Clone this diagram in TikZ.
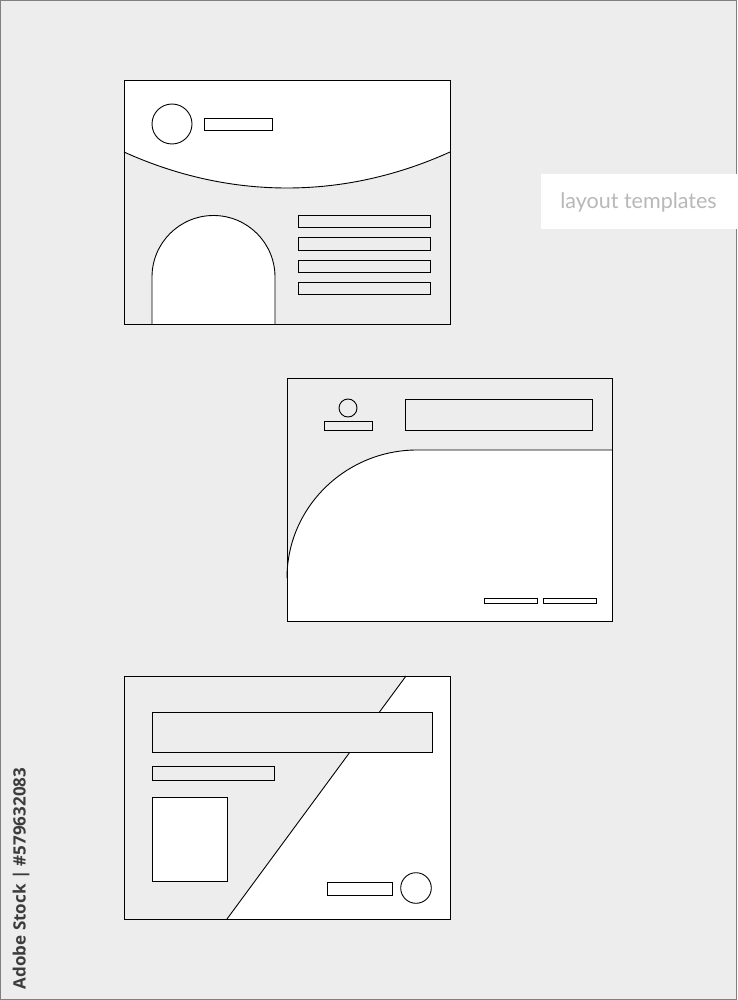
\documentclass[tikz,border=0pt]{standalone}
\usepackage{fontspec}
\newfontfamily\labelfont{Lato}
\newfontfamily\markfont{Open Sans}
\usetikzlibrary{positioning}
\definecolor{bggray}{HTML}{EDEDED}
\definecolor{labelgray}{HTML}{B8B8B8}
\definecolor{markgray}{HTML}{3C3C3C}
\tikzstyle{outline}=[draw=black, line width=0.9pt]
\tikzstyle{whitebox}=[outline, fill=white]
\tikzstyle{graybox}=[outline, fill=bggray]

\begin{document}
\begin{tikzpicture}
    [x=1pt, y=-1pt,
    title/.style={fill=white, text=labelgray, minimum width=196pt,
    minimum height=55pt, inner sep=0pt,
    font=\labelfont\fontsize{21.5}{22}\selectfont},
    stamp/.style={rotate=90, text=markgray, inner sep=0pt,
    font=\markfont\bfseries\fontsize{17}{18}\selectfont}]

  \fill[bggray] (0,0) rectangle (737,1000);
  \draw[gray, line width=1pt] (0.5,0.5) rectangle (736.5,999.5);
  \useasboundingbox (0,0) rectangle (737,1000);

  % first card: curved header, arch and bars
  \fill[white] (124,80) rectangle (450,324);
  \fill[bggray] (124,152) .. controls (230,200) and (344,200) .. (450,152)
    -- (450,324) -- (124,324) -- cycle;
  \draw[outline] (124,152) .. controls (230,200) and (344,200) .. (450,152);
  \draw[whitebox] (172,124) circle[radius=20];
  \draw[outline] (204,118) rectangle (272,130.5);
  \draw[whitebox] (152,324) -- (152,277)
    arc[start angle=180, end angle=360, radius=61.5] -- (275,324);
  \foreach \y in {215.5,237.8,260,282.3}
    \draw[outline] (298,\y) rectangle (430,\y+12.3);
  \draw[outline] (124,80) rectangle (450,324);

  % second card: quarter curve
  \fill[white] (287,621) -- (287,578) .. controls (287,507) and (346,450) .. (417,450)
    -- (612,450) -- (612,621) -- cycle;
  \draw[outline] (287,578) .. controls (287,507) and (346,450) .. (417,450) -- (612,450);
  \draw[outline] (348,408) circle[radius=9];
  \draw[outline] (324,421) rectangle (372,430);
  \draw[outline] (405,399) rectangle (592,430);
  \draw[whitebox] (484,598) rectangle (537,603.5);
  \draw[whitebox] (543,598) rectangle (596,603.5);
  \draw[outline] (287,378) rectangle (612,621);

  % third card: diagonal split
  \fill[white] (406,676) -- (450,676) -- (450,919) -- (227,919) -- cycle;
  \draw[outline] (406,676) -- (227,919);
  \draw[graybox] (152,712) rectangle (432,752);
  \draw[graybox] (152,766) rectangle (274,780);
  \draw[whitebox] (152,797) rectangle (227,881);
  \draw[whitebox] (327,882) rectangle (392,895);
  \draw[whitebox] (416,888) circle[radius=15.3];
  \draw[outline] (124,676) rectangle (450,919);

  \node[title] (caption) at (638.5,202) {layout templates};
  \node[stamp] (stockmark) at (21,878.5) {Adobe Stock | \#579632083};

\end{tikzpicture}
\end{document}
